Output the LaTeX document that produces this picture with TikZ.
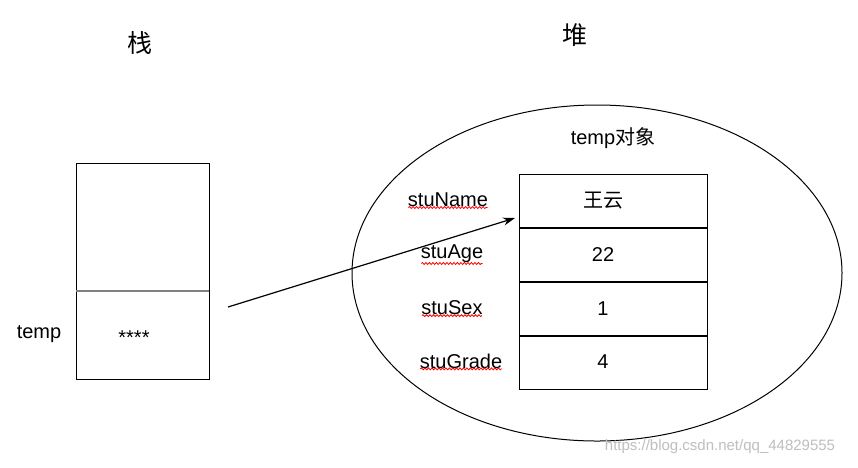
\documentclass[tikz,border=0pt]{standalone}
\usepackage{fontspec}
\setmainfont{Liberation Sans}
\newfontfamily\cjk{Noto Sans CJK SC}
\usetikzlibrary{arrows.meta,decorations.pathmorphing,calc}
\begin{document}
\begin{tikzpicture}[x=1pt,y=-1pt,
  txt/.style={font=\fontsize{20}{22}\selectfont},
  lbl/.style={txt},
  wavy/.style={red,line width=0.8pt,decorate,decoration={snake,amplitude=1pt,segment length=3.5pt}},
  cell/.style={draw,line width=1pt}]
\useasboundingbox[fill=white] (0,0) rectangle (858,467);
\node[txt] (zhan) at (140,43) {\cjk\fontsize{25}{27}\selectfont 栈};
\node[txt] (dui) at (575,35) {\cjk\fontsize{25}{27}\selectfont 堆};
% stack
\draw[cell] (76,163) rectangle (209,379);
\draw[gray,line width=1.2pt] (76,291) -- (209,291);
\node[txt] (temp) at (39,334) {temp};
\node[txt] (stars) at (134,338) {****};
% heap
\draw[line width=1pt] (597,273) ellipse (245 and 168);
\node[txt] (obj) at (613,138) {temp{\cjk 对象}};
\foreach \y in {174,228,282,336}{\draw[cell] (519,\y) rectangle (707,\y+53.75);}
\node[txt] (v1) at (603,201) {\cjk 王云};
\node[txt] (v2) at (603,255) {22};
\node[txt] (v3) at (603,309) {1};
\node[txt] (v4) at (603,362) {4};
\node[lbl] (n1) at (448,200) {stuName};
\node[lbl] (n2) at (452,254) {stuAge};
\node[lbl] (n3) at (452,308) {stuSex};
\node[lbl] (n4) at (461,361) {stuGrade};
\foreach \n in {n1,n2,n3,n4}{\draw[wavy] ($(\n.south west)+(4,-3)$) -- ($(\n.south east)+(-4,-3)$);}
\coordinate (s) at (228,307);
\coordinate (e) at (515,218);
\draw[-{Stealth[length=12pt,width=8pt]},line width=1.2pt] (s) -- (e);
\node[txt,text=black!25,font=\fontsize{15}{17}\selectfont] (wm) at (720,447) {https://blog.csdn.net/qq\_44829555};
\end{tikzpicture}
\end{document}
